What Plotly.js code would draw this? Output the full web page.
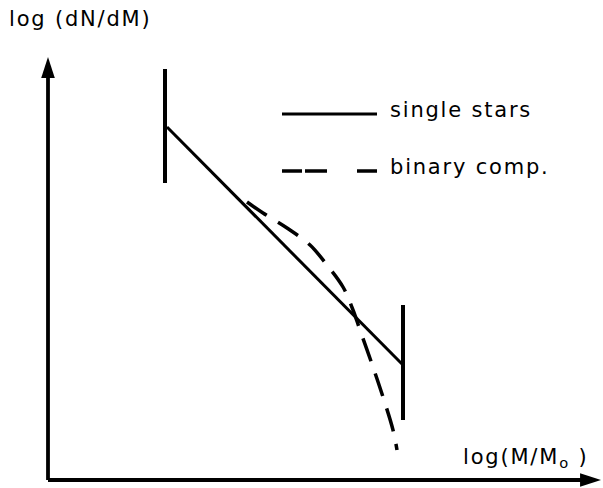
<!DOCTYPE html>
<html>
<head>
<meta charset="utf-8">
<script src="https://cdn.plot.ly/plotly-3.0.1.min.js"></script>
<style>
  body { margin: 0; background: #fff; }
  text { letter-spacing: 1.8px; }
</style>
</head>
<body>
<div id="imf" style="width:603px;height:488px;"></div>
<script>
// mass function sketch: single stars vs binary components
var singleX = [1.19, 3.55];
var singleY = [3.53, 1.15];

var binaryX = [1.99, 2.15, 2.39, 2.62, 2.79, 2.95, 3.05, 3.12, 3.25, 3.35, 3.45, 3.49];
var binaryY = [2.78, 2.67, 2.52, 2.35, 2.15, 1.93, 1.70, 1.50, 1.13, 0.83, 0.50, 0.30];

// mass limits (vertical bars)
var lowLimitX = [1.17, 1.17];
var lowLimitY = [4.11, 2.97];
var highLimitX = [3.55, 3.55];
var highLimitY = [1.75, 0.60];

// axes extent
var xAxisEnd = 5.53;
var yAxisEnd = 4.23;

// legend
var legendLabels = ['single stars', 'binary comp.'];
var legendLineX = [2.34, 3.29];
var legendRowY = [3.66, 3.09];

var ink = '#000';
var fnt = {family: 'DejaVu Sans', size: 21, color: ink};

var data = [
  {x: [0, 0], y: [0, yAxisEnd - 0.15], mode: 'lines', line: {color: ink, width: 3.8}, cliponaxis: false},
  {x: [0, xAxisEnd - 0.15], y: [0, 0], mode: 'lines', line: {color: ink, width: 3.8}, cliponaxis: false},
  {x: [0], y: [yAxisEnd], mode: 'markers', cliponaxis: false,
   marker: {symbol: 'arrow', size: 22, color: ink, angle: 0}},
  {x: [xAxisEnd], y: [0], mode: 'markers', cliponaxis: false,
   marker: {symbol: 'arrow', size: 22, color: ink, angle: 90}},
  {x: lowLimitX, y: lowLimitY, mode: 'lines', line: {color: ink, width: 4}},
  {x: highLimitX, y: highLimitY, mode: 'lines', line: {color: ink, width: 4}},
  {x: singleX, y: singleY, mode: 'lines', name: legendLabels[0], line: {color: ink, width: 3}},
  {x: binaryX, y: binaryY, mode: 'lines', name: legendLabels[1],
   line: {color: ink, width: 3.5, dash: '24px,13px', shape: 'spline'}},
  {x: legendLineX, y: [legendRowY[0], legendRowY[0]], mode: 'lines', line: {color: ink, width: 3}},
  {x: legendLineX, y: [legendRowY[1], legendRowY[1]], mode: 'lines',
   line: {color: ink, width: 3.5, dash: '20px,3px,22px,30px'}}
];

var layout = {
  width: 603,
  height: 488,
  margin: {l: 40, r: 0, t: 40, b: 0},
  showlegend: false,
  paper_bgcolor: '#fff',
  plot_bgcolor: '#fff',
  xaxis: {range: [-0.08, 5.55], visible: false, fixedrange: true},
  yaxis: {range: [-0.08, 4.40], visible: false, fixedrange: true},
  annotations: [
    {x: legendLineX[1] + 0.11, y: legendRowY[0] + 0.04, text: legendLabels[0], showarrow: false,
     xanchor: 'left', yanchor: 'middle', font: fnt},
    {x: legendLineX[1] + 0.11, y: legendRowY[1] + 0.04, text: legendLabels[1], showarrow: false,
     xanchor: 'left', yanchor: 'middle', font: fnt},
    {xref: 'paper', yref: 'paper', x: -0.059, y: 1.047, text: 'log (dN/dM)', showarrow: false,
     xanchor: 'left', yanchor: 'middle', font: fnt},
    {x: 4.13, y: 0.22, text: 'log(M/M<sub>o</sub> )', showarrow: false,
     xanchor: 'left', yanchor: 'middle', font: fnt}
  ]
};

Plotly.newPlot('imf', data, layout, {displayModeBar: false, staticPlot: true});
</script>
</body>
</html>
